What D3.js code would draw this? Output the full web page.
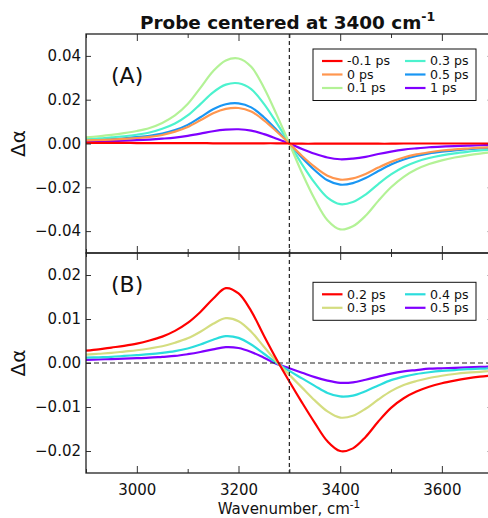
<!DOCTYPE html>
<html>
<head>
<meta charset="utf-8">
<script src="https://cdn.jsdelivr.net/npm/d3@7"></script>
<style>
  body { margin: 0; background: #fff; }
  svg { display: block; font-family: "DejaVu Sans", sans-serif; }
</style>
</head>
<body>
<div id="chart"></div>
<script>
// wavenumber grid, cm-1
const wavenumbers = [2900, 2925, 2950, 2975, 3000, 3025, 3050, 3075, 3100, 3125, 3150, 3175, 3200, 3225, 3250, 3275,
  3300, 3325, 3350, 3375, 3400, 3425, 3450, 3475, 3500, 3525, 3550, 3575, 3600, 3625, 3650, 3675, 3700];

// panel (A)
const labelsA = ["-0.1 ps", "0 ps", "0.1 ps", "0.3 ps", "0.5 ps", "1 ps"];
const aMinus01 = [0.0003, 0.0003, 0.0003, 0.0003, 0.0002, 0.0002, 0.0002, 0.0002, 0.0002, 0.0002, 0.0001, 0.0001, 0.0001, 0.0001, 0.0001, 0.0001,
  0, -0.0001, -0.0001, -0.0001, -0.0001, -0.0001, -0.0001, -0.0001, -0.0001, 0, 0, 0, 0, 0, 0, 0, 0];
const a0 = [0.0014, 0.0016, 0.0018, 0.0021, 0.0025, 0.0030, 0.0039, 0.0054, 0.0075, 0.0106, 0.0138, 0.0158, 0.0162, 0.0146, 0.0106, 0.0055,
  0, -0.0057, -0.0107, -0.0147, -0.0165, -0.0159, -0.0139, -0.0110, -0.0084, -0.0064, -0.0050, -0.0040, -0.0032, -0.0027, -0.0023, -0.0019, -0.0017];
const a01 = [0.0028, 0.0033, 0.0039, 0.0047, 0.0057, 0.0071, 0.0094, 0.0128, 0.0180, 0.0254, 0.0330, 0.0379, 0.0388, 0.0350, 0.0255, 0.0132,
  0, -0.0135, -0.0255, -0.0350, -0.0392, -0.0378, -0.0330, -0.0262, -0.0200, -0.0152, -0.0118, -0.0094, -0.0077, -0.0064, -0.0054, -0.0046, -0.0040];
const a03 = [0.0020, 0.0023, 0.0028, 0.0033, 0.0040, 0.0050, 0.0067, 0.0091, 0.0128, 0.0180, 0.0234, 0.0269, 0.0275, 0.0248, 0.0181, 0.0094,
  0, -0.0095, -0.0180, -0.0247, -0.0277, -0.0267, -0.0233, -0.0185, -0.0141, -0.0107, -0.0083, -0.0066, -0.0054, -0.0045, -0.0038, -0.0032, -0.0028];
const a05 = [0.0017, 0.0019, 0.0021, 0.0024, 0.0029, 0.0035, 0.0045, 0.0061, 0.0085, 0.0120, 0.0156, 0.0179, 0.0183, 0.0165, 0.0120, 0.0062,
  0, -0.0065, -0.0122, -0.0168, -0.0188, -0.0181, -0.0158, -0.0126, -0.0096, -0.0073, -0.0057, -0.0045, -0.0037, -0.0031, -0.0026, -0.0022, -0.0019];
const a1 = [0.0009, 0.0010, 0.0011, 0.0013, 0.0015, 0.0018, 0.0022, 0.0027, 0.0035, 0.0045, 0.0056, 0.0063, 0.0065, 0.0059, 0.0043, 0.0022,
  0, -0.0025, -0.0047, -0.0064, -0.0072, -0.0069, -0.0061, -0.0048, -0.0037, -0.0028, -0.0022, -0.0017, -0.0014, -0.0012, -0.0010, -0.0008, -0.0007];

// panel (B)
const labelsB = ["0.2 ps", "0.3 ps", "0.4 ps", "0.5 ps"];
const b02 = [0.0028, 0.0031, 0.0035, 0.0039, 0.0044, 0.0051, 0.0060, 0.0073, 0.0091, 0.0116, 0.0146, 0.0170, 0.0158, 0.0118, 0.0062, 0.0008,
  -0.0042, -0.0090, -0.0136, -0.0178, -0.0200, -0.0194, -0.0168, -0.0133, -0.0102, -0.0080, -0.0065, -0.0054, -0.0046, -0.0040, -0.0035, -0.0031, -0.0028];
const b03 = [0.0019, 0.0021, 0.0023, 0.0026, 0.0029, 0.0033, 0.0038, 0.0046, 0.0056, 0.0071, 0.0089, 0.0102, 0.0095, 0.0071, 0.0037, 0.0003,
  -0.0027, -0.0056, -0.0085, -0.0110, -0.0124, -0.0120, -0.0104, -0.0083, -0.0064, -0.0050, -0.0041, -0.0034, -0.0029, -0.0025, -0.0022, -0.0020, -0.0018];
const b04 = [0.0012, 0.0013, 0.0014, 0.0016, 0.0018, 0.0020, 0.0023, 0.0027, 0.0033, 0.0042, 0.0053, 0.0061, 0.0057, 0.0042, 0.0021, 0.0000,
  -0.0018, -0.0035, -0.0052, -0.0068, -0.0076, -0.0074, -0.0064, -0.0051, -0.0039, -0.0031, -0.0025, -0.0021, -0.0018, -0.0016, -0.0014, -0.0013, -0.0012];
const b05 = [0.0007, 0.0008, 0.0009, 0.0010, 0.0011, 0.0012, 0.0014, 0.0016, 0.0020, 0.0025, 0.0031, 0.0036, 0.0034, 0.0025, 0.0012, -0.0002,
  -0.0012, -0.0022, -0.0032, -0.0040, -0.0045, -0.0044, -0.0038, -0.0031, -0.0024, -0.0019, -0.0016, -0.0013, -0.0012, -0.0011, -0.0010, -0.0009, -0.0008];

const ticksX = [3000, 3200, 3400, 3600];
const minorX = [2900, 3100, 3300, 3500];
const ticksA = [0.04, 0.02, 0, -0.02, -0.04];
const ticksB = [0.02, 0.01, 0, -0.01, -0.02];
const marker = 3300;

// rainbow colours
const colorsA = ["#ff0000", "#ff964f", "#b3f296", "#4cf2ce", "#1996f3", "#8000ff"];
const colorsB = ["#ff0000", "#d4dd80", "#2bdddd", "#8000ff"];

const w = 488, h = 518;
const left = 86, right = 492.7;

const svg = d3.select("#chart").append("svg")
  .attr("width", w)
  .attr("height", h);

const x = d3.scaleLinear().domain([2900, 3700]).range([left, right]);
const fmt = d3.format(".2f");

svg.append("clipPath").attr("id", "clipA")
  .append("rect").attr("x", left).attr("y", 34).attr("width", right - left).attr("height", 219);
svg.append("clipPath").attr("id", "clipB")
  .append("rect").attr("x", left).attr("y", 253).attr("width", right - left).attr("height", 220);

function panel(top, bottom, yDomain, yTicks, series, colors, labels, clipId, tag, legendTop, showXLabels) {
  const y = d3.scaleLinear().domain(yDomain).range([bottom, top]);
  const g = svg.append("g");

  const line = d3.line()
    .x((d, i) => x(wavenumbers[i]))
    .y(d => y(d))
    .curve(d3.curveCatmullRom.alpha(0.5));

  // draw last series first so the first one ends up on top
  const order = series.map((s, i) => i).reverse();
  g.append("g").attr("clip-path", `url(#${clipId})`)
    .selectAll("path")
    .data(order)
    .join("path")
    .attr("d", i => line(series[i]))
    .attr("fill", "none")
    .attr("stroke", i => colors[i])
    .attr("stroke-width", 2.2);

  // dashed markers
  g.append("line")
    .attr("x1", x(marker)).attr("x2", x(marker))
    .attr("y1", top).attr("y2", bottom)
    .attr("stroke", "#222").attr("stroke-width", 1.2)
    .attr("stroke-dasharray", "4,3");
  if (tag === "(B)") {
    g.append("line")
      .attr("x1", left).attr("x2", right)
      .attr("y1", y(0)).attr("y2", y(0))
      .attr("stroke", "#222").attr("stroke-width", 1.2)
      .attr("stroke-dasharray", "5,3");
  }

  // axes, ticks pointing inward
  const yl = g.append("g").attr("transform", `translate(${left},0)`)
    .call(d3.axisLeft(y).tickValues(yTicks).tickSize(-5).tickPadding(5).tickFormat(fmt));
  const yr = g.append("g").attr("transform", `translate(${right},0)`)
    .call(d3.axisRight(y).tickValues(yTicks).tickSize(-5).tickFormat(""));
  const xb = g.append("g").attr("transform", `translate(0,${bottom})`)
    .call(d3.axisBottom(x).tickValues(ticksX).tickSize(-7).tickPadding(11)
      .tickFormat(showXLabels ? d3.format("d") : ""));
  const xbm = g.append("g").attr("transform", `translate(0,${bottom})`)
    .call(d3.axisBottom(x).tickValues(minorX).tickSize(-4).tickFormat(""));
  const xt = g.append("g").attr("transform", `translate(0,${top})`)
    .call(d3.axisTop(x).tickValues(ticksX).tickSize(-7).tickFormat(""));
  const xtm = g.append("g").attr("transform", `translate(0,${top})`)
    .call(d3.axisTop(x).tickValues(minorX).tickSize(-4).tickFormat(""));

  [yl, yr, xb, xbm, xt, xtm].forEach(a => {
    a.select(".domain").remove();
    a.selectAll("line").attr("stroke", "#333");
    a.selectAll("text").attr("font-size", 15).attr("fill", "#111")
      .attr("font-family", "DejaVu Sans, sans-serif");
  });

  g.append("rect")
    .attr("x", left).attr("y", top)
    .attr("width", right - left).attr("height", bottom - top)
    .attr("fill", "none").attr("stroke", "#222").attr("stroke-width", 1.3);

  g.append("text")
    .attr("x", 111).attr("y", top + (tag === "(A)" ? 49 : 38.5))
    .attr("font-size", 22)
    .attr("fill", "#111")
    .text(tag);

  g.append("text")
    .attr("transform", `translate(25,${(top + bottom) / 2}) rotate(-90)`)
    .attr("text-anchor", "middle")
    .attr("font-size", 20)
    .attr("fill", "#111")
    .text("Δα");

  // legend, two columns filled column first
  const rows = Math.ceil(labels.length / 2);
  const lg = g.append("g");
  lg.append("rect")
    .attr("x", 313).attr("y", legendTop)
    .attr("width", 163).attr("height", rows * 13.5 + 11)
    .attr("fill", "#fff").attr("stroke", "#111").attr("stroke-width", 1);
  const items = lg.selectAll("g.item")
    .data(labels)
    .join("g")
    .attr("transform", (d, i) => {
      const col = Math.floor(i / rows), row = i % rows;
      return `translate(${col === 0 ? 322 : 405},${legendTop + 12 + row * 13.5})`;
    });
  items.append("line")
    .attr("x1", 0).attr("x2", 20.5)
    .attr("stroke", (d, i) => colors[i])
    .attr("stroke-width", 2.2);
  items.append("text")
    .attr("x", 25).attr("dy", "0.35em")
    .attr("font-size", 12.6)
    .attr("fill", "#111")
    .text(d => d);
}

panel(34, 253, [-0.05, 0.05], ticksA, [aMinus01, a0, a01, a03, a05, a1], colorsA, labelsA, "clipA", "(A)", 49, false);
panel(253, 473, [-0.025, 0.025], ticksB, [b02, b03, b04, b05], colorsB, labelsB, "clipB", "(B)", 282.3, true);

// title and x label
const title = svg.append("text")
  .attr("x", 140).attr("y", 29)
  .attr("font-size", 18.4).attr("font-weight", "bold").attr("fill", "#111");
title.append("tspan").text("Probe centered at 3400 cm");
title.append("tspan").attr("dy", -8).attr("font-size", 12.5).text("-1");

const xl = svg.append("text")
  .attr("x", 289).attr("y", 514)
  .attr("text-anchor", "middle")
  .attr("font-size", 15).attr("fill", "#111");
xl.append("tspan").text("Wavenumber, cm");
xl.append("tspan").attr("dy", -6).attr("font-size", 10.5).text("-1");
</script>
</body>
</html>
